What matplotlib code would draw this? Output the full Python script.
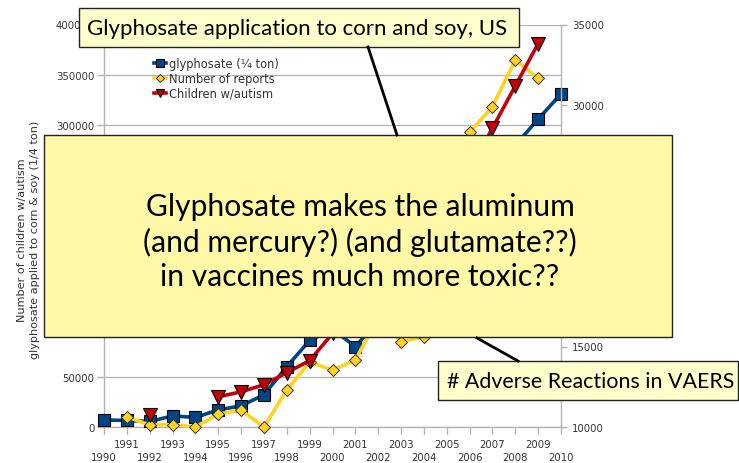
import numpy as np
import matplotlib.pyplot as plt
from matplotlib.patches import Rectangle

nan = np.nan
years = list(range(1990, 2011))
# glyphosate applied to corn & soy, 1/4 ton units (left axis)
glyphosate = [7000, 6500, 5500, 11000, 9500, 17000, 21000, 32000, 60000, 86000,
              97000, 80000, 105000, 130000, 158000, 188000, 218000, 248000, 280000,
              306000, 331000]
# VAERS reports (right axis)
reports = [nan, 10640, 10120, 10150, 10000, 10800, 11050, 10000, 12300, 14030,
           13540, 14150, 16800, 15300, 15600, 22000, 28300, 29900, 32800, 31650, nan]
# children with autism (left axis)
autism = [nan, nan, 12000, nan, nan, 30000, 35000, 42000, 54000, 66000,
          93000, 115000, 140000, 165000, 192000, 222000, 255000, 297000, 339000,
          381000, nan]

left_ticks = list(range(0, 400001, 50000))
right_ticks = list(range(10000, 35001, 5000))
odd_years = [y for y in years if y % 2]
even_years = [y for y in years if not y % 2]

blue = '#004586'
yellow = '#ffd320'
red = '#c5000b'
grey = '#b3b3b3'
txt = '#333333'

W, H = 739, 464
fig = plt.figure(figsize=(W / 100, H / 100), dpi=100)
ax1 = fig.add_axes([104 / W, 1 - 428 / H, 457 / W, 402.5 / H])
ax2 = ax1.twinx()

ax1.set_xlim(1990, 2010)
ax1.set_ylim(0, 400000)
ax2.set_ylim(10000, 35000)

for v in left_ticks:
    ax1.axhline(v, color=grey, lw=0.9, zorder=1)

ax1.plot(years, glyphosate, color=blue, lw=2.6, marker='s', ms=8.5, mec='black',
         mew=0.8, label='glyphosate (¼ ton)', zorder=3, clip_on=False)
ax1.plot(years, reports, color=yellow, lw=2.6, marker='D', ms=6.5, mec='#333333',
         mew=0.7, label='Number of reports', zorder=4, clip_on=False,
         transform=ax2.transData)
ax1.plot(years, autism, color=red, lw=2.6, marker='v', ms=9.5, mec='black',
         mew=0.8, label='Children w/autism', zorder=5, clip_on=False)

for ax in (ax1, ax2):
    for s in ax.spines.values():
        s.set_visible(False)
ax1.spines['left'].set_visible(True)
ax1.spines['bottom'].set_visible(True)
ax2.spines['right'].set_visible(True)
for s in (ax1.spines['left'], ax1.spines['bottom'], ax2.spines['right']):
    s.set_color(grey)
    s.set_linewidth(1)

ax1.set_yticks(left_ticks)
ax1.set_yticklabels([str(v) for v in left_ticks])
ax2.set_yticks(right_ticks)
ax2.set_yticklabels([str(v) for v in right_ticks])
# staggered year labels: odd years on the upper row, even years below
ax1.set_xticks(odd_years)
ax1.set_xticklabels([str(y) for y in odd_years])
ax1.set_xticks(even_years, minor=True)
ax1.set_xticklabels([str(y) for y in even_years], minor=True)

ax1.tick_params(axis='y', length=5, width=1, color=grey, pad=2,
                labelsize=7.3, labelcolor=txt)
ax1.tick_params(axis='x', which='major', length=5, width=1, color=grey, pad=4,
                labelsize=7.3, labelcolor=txt)
ax1.tick_params(axis='x', which='minor', length=5, width=1, color=grey, pad=12.8,
                labelsize=7.3, labelcolor=txt)
ax2.tick_params(axis='y', length=4, width=1, color=grey, pad=4,
                labelsize=7.3, labelcolor=txt)

ax1.set_ylabel('Number of children w/autism\nglyphosate applied to corn & soy (1/4 ton)',
               fontsize=8.1, color=txt, linespacing=1.35)
ax1.yaxis.set_label_coords(-0.141, 0.467)

leg = ax1.legend(loc='upper left', bbox_to_anchor=(0.1, 0.93), frameon=False,
                 fontsize=8.3, handlelength=1.0, handletextpad=0.25,
                 labelspacing=0.15, markerscale=0.6, borderaxespad=0)
for t in leg.get_texts():
    t.set_color(txt)

# overlay annotations in pixel coordinates
ov = fig.add_axes([0, 0, 1, 1], zorder=10)
ov.set_xlim(0, W)
ov.set_ylim(H, 0)
ov.axis('off')
ov.patch.set_visible(False)

ov.plot([368, 397], [48, 136], color='black', lw=2)
ov.plot([477, 518], [339, 362], color='black', lw=2)

ov.add_patch(Rectangle((79, 9), 440, 39, facecolor='#ffffcc', edgecolor='#222222', lw=1))
ov.text(297, 29, 'Glyphosate application to corn and soy, US', ha='center',
        va='center', fontsize=16, family='Lato')

ov.add_patch(Rectangle((44, 136), 628, 202, facecolor='#fff8a6', edgecolor='#222222', lw=1))
ov.text(360, 242, 'Glyphosate makes the aluminum\n(and mercury?) (and glutamate??)\nin vaccines much more toxic??',
        ha='center', va='center', fontsize=21.6, family='Lato', linespacing=1.27)

ov.add_patch(Rectangle((438, 362), 300, 39, facecolor='#ffffcc', edgecolor='#222222', lw=1))
ov.text(591, 382, '# Adverse Reactions in VAERS', ha='center', va='center',
        fontsize=15.4, family='Lato')

fig.savefig('out.png', dpi=100)
